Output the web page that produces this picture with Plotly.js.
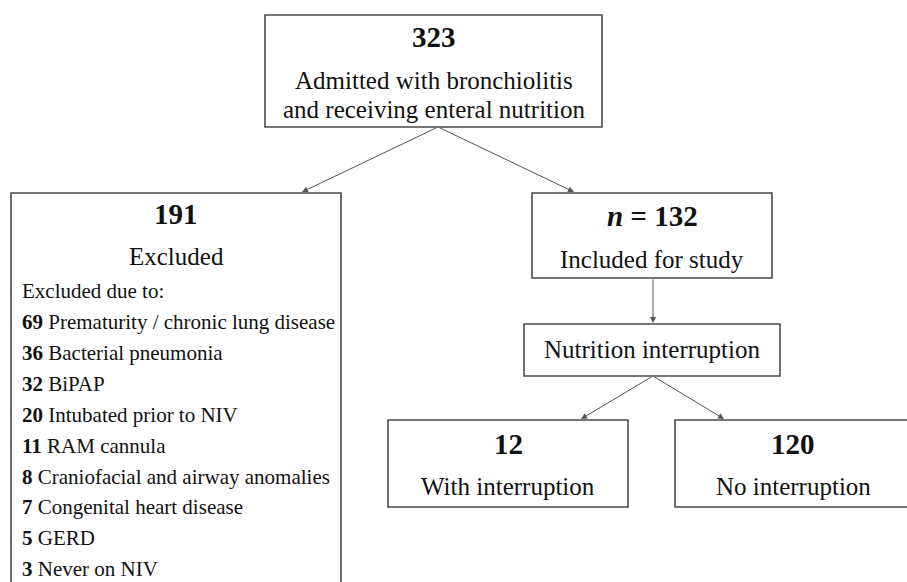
<!DOCTYPE html>
<html>
<head>
<meta charset="utf-8">
<script src="https://cdn.plot.ly/plotly-3.0.1.min.js"></script>
<style>html,body{margin:0;padding:0;background:#fff;}#chart{width:907px;height:582px;}</style>
</head>
<body>
<div id="chart"></div>
<script>
// ---- data ----
var nodeCounts = ["323", "191", "132", "12", "120"];
var topLabelLines = ["Admitted with bronchiolitis", "and receiving enteral nutrition"];
var nodeLabels = ["", "Excluded", "Included for study", "With interruption", "No interruption"];
var splitLabel = "Nutrition interruption";
var exclusionHeader = "Excluded due to:";
var exclusionCounts = [69, 36, 32, 20, 11, 8, 7, 5, 3];
var exclusionReasons = [
  "Prematurity / chronic lung disease",
  "Bacterial pneumonia",
  "BiPAP",
  "Intubated prior to NIV",
  "RAM cannula",
  "Craniofacial and airway anomalies",
  "Congenital heart disease",
  "GERD",
  "Never on NIV"
];

// ---- layout geometry (pixels) ----
var boxes = {
  top:   {x0: 265, x1: 602, y0: 15,  y1: 127},
  excl:  {x0: 11,  x1: 341, y0: 193, y1: 600},
  incl:  {x0: 532, x1: 772, y0: 193, y1: 278},
  split: {x0: 524, x1: 780, y0: 324, y1: 376},
  withI: {x0: 388, x1: 628, y0: 420, y1: 507},
  noI:   {x0: 675, x1: 920, y0: 420, y1: 507}
};
var FONT = "'Liberation Serif', 'Times New Roman', Times, serif";
var BOX_LINE = {color: "#4a4a4a", width: 1.6};
var NUM = 29, MAIN = 25, LIST = 21;

var shapes = Object.keys(boxes).map(function (k) {
  var b = boxes[k];
  return {type: "rect", xref: "x", yref: "y", x0: b.x0, x1: b.x1, y0: b.y0, y1: b.y1,
          line: BOX_LINE, fillcolor: "rgba(0,0,0,0)"};
});

var ann = [];
function txt(x, y, text, size, anchor) {
  ann.push({x: x, y: y, xref: "x", yref: "y", text: text, showarrow: false,
            xanchor: anchor || "center", yanchor: "middle",
            font: {family: FONT, size: size, color: "#111"}});
}
function arrow(x0, y0, x1, y1) {
  ann.push({x: x1, y: y1, ax: x0, ay: y0, xref: "x", yref: "y", axref: "x", ayref: "y",
            text: "", showarrow: true, arrowhead: 2, arrowsize: 1.2, arrowwidth: 1,
            arrowcolor: "#555555", standoff: 0, startstandoff: 0});
}

// top box
txt(434, 37, "<b>" + nodeCounts[0] + "</b>", NUM);
txt(434, 80.5, topLabelLines[0], MAIN);
txt(434, 109.5, topLabelLines[1], MAIN);
// excluded box
txt(176, 214, "<b>" + nodeCounts[1] + "</b>", NUM);
txt(176, 256, nodeLabels[1], MAIN);
txt(20, 291, exclusionHeader, LIST, "left");
for (var i = 0; i < exclusionCounts.length; i++) {
  txt(20, 322 + i * 30.9, "<b>" + exclusionCounts[i] + "</b> " + exclusionReasons[i], LIST, "left");
}
// included box
txt(652, 216, "<b><i>n</i> = " + nodeCounts[2] + "</b>", NUM);
txt(652, 259, nodeLabels[2], MAIN);
// split box
txt(652, 349, splitLabel, MAIN);
// bottom boxes
txt(508, 444, "<b>" + nodeCounts[3] + "</b>", NUM);
txt(508, 486, nodeLabels[3], MAIN);
txt(793, 444, "<b>" + nodeCounts[4] + "</b>", NUM);
txt(793, 486, nodeLabels[4], MAIN);

// arrows
arrow(438, 127, 302, 192);
arrow(438, 127, 574, 192);
arrow(653, 278, 653, 323);
arrow(653, 376, 581, 419);
arrow(653, 376, 724, 419);

var layout = {
  width: 907, height: 582,
  margin: {l: 0, r: 0, t: 0, b: 0},
  paper_bgcolor: "#ffffff", plot_bgcolor: "#ffffff",
  showlegend: false,
  xaxis: {range: [0, 907], visible: false, fixedrange: true},
  yaxis: {range: [582, 0], visible: false, fixedrange: true},
  shapes: shapes,
  annotations: ann
};
Plotly.newPlot("chart", [{x: [], y: [], type: "scatter", mode: "markers"}], layout, {displayModeBar: false, staticPlot: true});
</script>
</body>
</html>
